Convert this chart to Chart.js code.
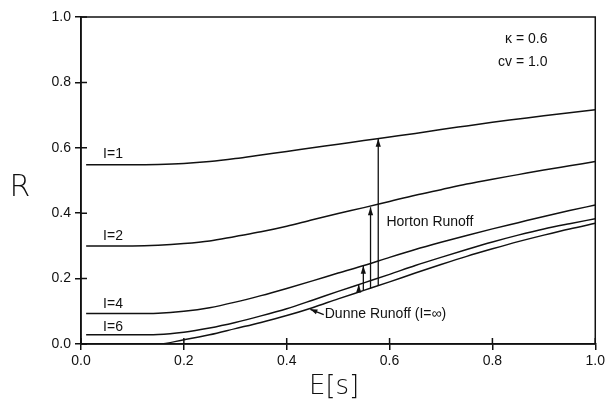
<!DOCTYPE html>
<html>
<head>
<meta charset="utf-8">
<script src="https://cdn.jsdelivr.net/npm/chart.js@4/dist/chart.umd.min.js"></script>
<style>
  html, body { margin: 0; padding: 0; background: #fff; }
  #wrap { width: 608px; height: 407px; }
</style>
</head>
<body>
<div id="wrap"><canvas id="myChart" width="608" height="407"></canvas></div>
<script>
// E[s] sample points and R for each curve
const eGrid = [0.01, 0.05, 0.1, 0.15, 0.2, 0.25, 0.3, 0.35, 0.4, 0.45, 0.5, 0.55, 0.6, 0.65, 0.7, 0.75, 0.8, 0.85, 0.9, 0.95, 1.0];
const rI1  = [0.548, 0.548, 0.548, 0.549, 0.552, 0.558, 0.567, 0.578, 0.589, 0.600, 0.611, 0.622, 0.633, 0.644, 0.656, 0.667, 0.678, 0.688, 0.698, 0.707, 0.716];
const rI2  = [0.300, 0.300, 0.300, 0.302, 0.307, 0.315, 0.329, 0.343, 0.360, 0.380, 0.399, 0.417, 0.436, 0.455, 0.472, 0.489, 0.504, 0.518, 0.532, 0.545, 0.558];
const rI4  = [0.093, 0.093, 0.093, 0.094, 0.100, 0.111, 0.128, 0.148, 0.170, 0.193, 0.217, 0.240, 0.265, 0.289, 0.311, 0.332, 0.352, 0.371, 0.390, 0.408, 0.425];
const rI6  = [0.028, 0.028, 0.028, 0.029, 0.036, 0.049, 0.066, 0.086, 0.108, 0.134, 0.161, 0.187, 0.213, 0.240, 0.265, 0.289, 0.312, 0.333, 0.352, 0.368, 0.383];
const rInf = [0, 0, 0, 0, 0.013, 0.028, 0.047, 0.066, 0.087, 0.111, 0.138, 0.164, 0.190, 0.217, 0.243, 0.268, 0.291, 0.313, 0.333, 0.352, 0.369];

const curveLabels = ['I=1', 'I=2', 'I=4', 'I=6'];
const labelE = [0.043, 0.043, 0.043, 0.043];
const labelR = [0.581, 0.330, 0.122, 0.052];

// Horton runoff arrows (from the I=inf curve up to each curve)
const arrowE    = [0.540, 0.549, 0.563, 0.578];
const arrowBase = [0.160, 0.164, 0.170, 0.177];
const arrowTip  = [0.182, 0.239, 0.418, 0.628];

const tickVals = [0, 0.2, 0.4, 0.6, 0.8, 1.0];

const FONT = "'Liberation Sans', Arial, sans-serif";
const INK = '#111';

const pts = (ys) => eGrid.map((e, i) => ({ x: e, y: ys[i] }));

const curve = (ys) => ({
  data: pts(ys),
  borderColor: INK,
  borderWidth: 1.5,
  pointRadius: 0,
  cubicInterpolationMode: 'monotone',
  fill: false,
});

const datasets = [rI1, rI2, rI4, rI6, rInf].map(curve);
arrowE.forEach((e, i) => {
  datasets.push({
    data: [{ x: e, y: arrowBase[i] }, { x: e, y: arrowTip[i] }],
    borderColor: INK,
    borderWidth: 1.3,
    pointRadius: 0,
    fill: false,
  });
});

function head(ctx, x0, y0, x1, y1, len, half) {
  const ang = Math.atan2(y1 - y0, x1 - x0);
  ctx.beginPath();
  ctx.moveTo(x1, y1);
  ctx.lineTo(x1 - len * Math.cos(ang) + half * Math.sin(ang), y1 - len * Math.sin(ang) - half * Math.cos(ang));
  ctx.lineTo(x1 - len * Math.cos(ang) - half * Math.sin(ang), y1 - len * Math.sin(ang) + half * Math.cos(ang));
  ctx.closePath();
  ctx.fill();
}

const annot = {
  id: 'annot',
  afterDatasetsDraw(chart) {
    const { ctx, chartArea: a, scales: { x, y } } = chart;
    ctx.save();
    ctx.strokeStyle = INK;
    ctx.fillStyle = INK;
    ctx.lineWidth = 1.5;
    ctx.strokeRect(a.left, a.top, a.right - a.left, a.bottom - a.top);

    // tick marks crossing into the plot
    ctx.beginPath();
    x.ticks.forEach(t => {
      const px = x.getPixelForValue(t.value);
      ctx.moveTo(px, a.bottom); ctx.lineTo(px, a.bottom - 6);
    });
    y.ticks.forEach(t => {
      const py = y.getPixelForValue(t.value);
      ctx.moveTo(a.left, py); ctx.lineTo(a.left + 6, py);
    });
    ctx.stroke();

    // arrow heads
    arrowE.forEach((e, i) => {
      const px = x.getPixelForValue(e);
      head(ctx, px, y.getPixelForValue(arrowBase[i]), px, y.getPixelForValue(arrowTip[i]), 8, 2.6);
    });

    // text
    ctx.textBaseline = 'middle';
    ctx.font = `14px ${FONT}`;
    ctx.textAlign = 'left';
    curveLabels.forEach((s, i) => ctx.fillText(s, x.getPixelForValue(labelE[i]), y.getPixelForValue(labelR[i])));
    ctx.fillText('Horton Runoff', x.getPixelForValue(0.594), y.getPixelForValue(0.373));
    ctx.fillText('Dunne Runoff (I=\u221e)', x.getPixelForValue(0.474), y.getPixelForValue(0.092));

    // Dunne arrow
    ctx.lineWidth = 1.2;
    const dx0 = x.getPixelForValue(0.472), dy0 = y.getPixelForValue(0.090);
    const dx1 = x.getPixelForValue(0.446), dy1 = y.getPixelForValue(0.106);
    ctx.beginPath(); ctx.moveTo(dx0, dy0); ctx.lineTo(dx1, dy1); ctx.stroke();
    head(ctx, dx0, dy0, dx1, dy1, 7, 2.6);

    ctx.textAlign = 'right';
    ctx.font = `14px ${FONT}`;
    ctx.fillText('\u03ba = 0.6', x.getPixelForValue(0.907), y.getPixelForValue(0.933));
    ctx.fillText('cv = 1.0', x.getPixelForValue(0.907), y.getPixelForValue(0.862));

    // axis titles
    ctx.textAlign = 'center';
    ctx.font = `200 30px 'DejaVu Sans', ${FONT}`;
    ctx.fillText('R', 20, (a.top + a.bottom) / 2 + 8);
    ctx.font = `200 26px 'DejaVu Sans', ${FONT}`;
    ctx.fillText('E[s]', (a.left + a.right) / 2 - 4, 387);
    ctx.restore();
  }
};

new Chart(document.getElementById('myChart'), {
  type: 'line',
  data: { datasets },
  options: {
    responsive: false,
    animation: false,
    layout: { padding: { left: 0, top: 17, right: 10, bottom: 0 } },
    plugins: { legend: { display: false }, tooltip: { enabled: false } },
    scales: {
      x: {
        type: 'linear', min: 0, max: 1,
        afterBuildTicks: (s) => { s.ticks = tickVals.map(v => ({ value: v })); },
        afterFit: (s) => { s.height = 63; },
        ticks: { color: INK, font: { family: FONT, size: 14 }, padding: 3, callback: v => v.toFixed(1) },
        grid: { drawOnChartArea: false, tickLength: 6, color: INK, lineWidth: 1.5 },
        border: { color: INK, width: 1.5 },
      },
      y: {
        type: 'linear', min: 0, max: 1,
        afterBuildTicks: (s) => { s.ticks = tickVals.map(v => ({ value: v })); },
        afterFit: (s) => { s.width = 81; },
        ticks: { color: INK, font: { family: FONT, size: 14 }, padding: 4, callback: v => v.toFixed(1) },
        grid: { drawOnChartArea: false, tickLength: 6, color: INK, lineWidth: 1.5 },
        border: { color: INK, width: 1.5 },
      },
    },
  },
  plugins: [annot],
});
</script>
</body>
</html>
